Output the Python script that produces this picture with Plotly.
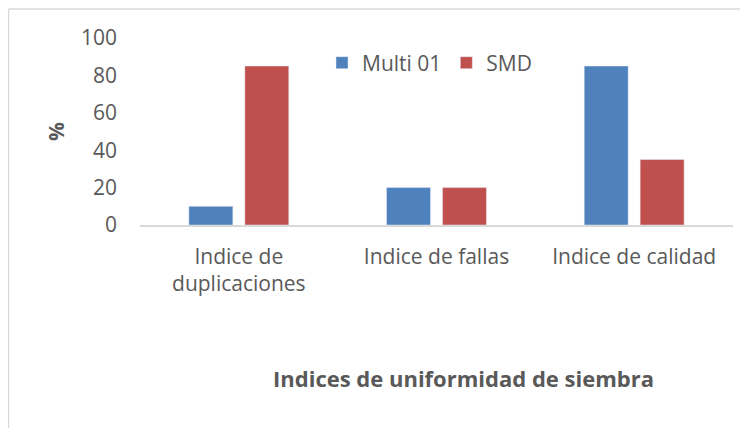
import plotly.graph_objects as go

categories = ["Indice de<br>duplicaciones", "Indice de fallas", "Indice de calidad"]
multi01 = [10, 20, 85]
smd = [85, 20, 35]
y_ticks = [0, 20, 40, 60, 80, 100]

# page is offset by 8px body margin; figure coordinates below are page coords - 8
W, H = 740, 420
L, R, T, B = 132, 725, 30, 217

def px(x):
    return (x - L) / (R - L)

def py(y):
    return (B - y) / (B - T)

FONT = "Open Sans"
GREY = "#595959"
FS = 21

fig = go.Figure()
fig.add_bar(x=categories, y=multi01, name="Multi 01", marker_color="#4f81bd")
fig.add_bar(x=categories, y=smd, name="SMD", marker_color="#c0504d")

fig.update_layout(
    width=W, height=H,
    margin=dict(l=L, r=W - R, t=T, b=H - B, pad=0),
    paper_bgcolor="white", plot_bgcolor="white",
    barmode="group", bargap=0.434, bargroupgap=0.214,
    font=dict(family=FONT, size=FS, color=GREY),
    legend=dict(orientation="h", x=px(314), y=py(55), xanchor="left", yanchor="middle",
                font=dict(size=FS, color=GREY), itemwidth=30, tracegroupgap=0,
                bgcolor="rgba(0,0,0,0)"),
    xaxis=dict(showgrid=False, showline=True, linecolor="#d9d9d9", linewidth=1.5,
               ticks="", tickfont=dict(size=FS, color=GREY), ticklabelstandoff=12),
    yaxis=dict(range=[0, 100], tickvals=y_ticks, showgrid=False, showline=False,
               zeroline=False, ticks="", tickfont=dict(size=FS, color=GREY),
               ticklabelstandoff=22,
               title=dict(text="<b>%</b>", font=dict(size=FS, color=GREY), standoff=10)),
    shapes=[
        dict(type="line", xref="paper", yref="paper", x0=px(0.5), x1=px(0.5), y0=py(1), y1=py(440),
             line=dict(color="#d9d9d9", width=1.5)),
        dict(type="line", xref="paper", yref="paper", x0=px(0.5), x1=px(760), y0=py(1), y1=py(1),
             line=dict(color="#d9d9d9", width=1.5)),
    ],
    annotations=[
        dict(text="<b>Indices de uniformidad de siembra</b>", xref="paper", yref="paper",
             x=px(455), y=py(370), xanchor="center", yanchor="middle", showarrow=False,
             font=dict(size=22, color=GREY, family=FONT)),
    ],
)

fig.write_html("out.html")
